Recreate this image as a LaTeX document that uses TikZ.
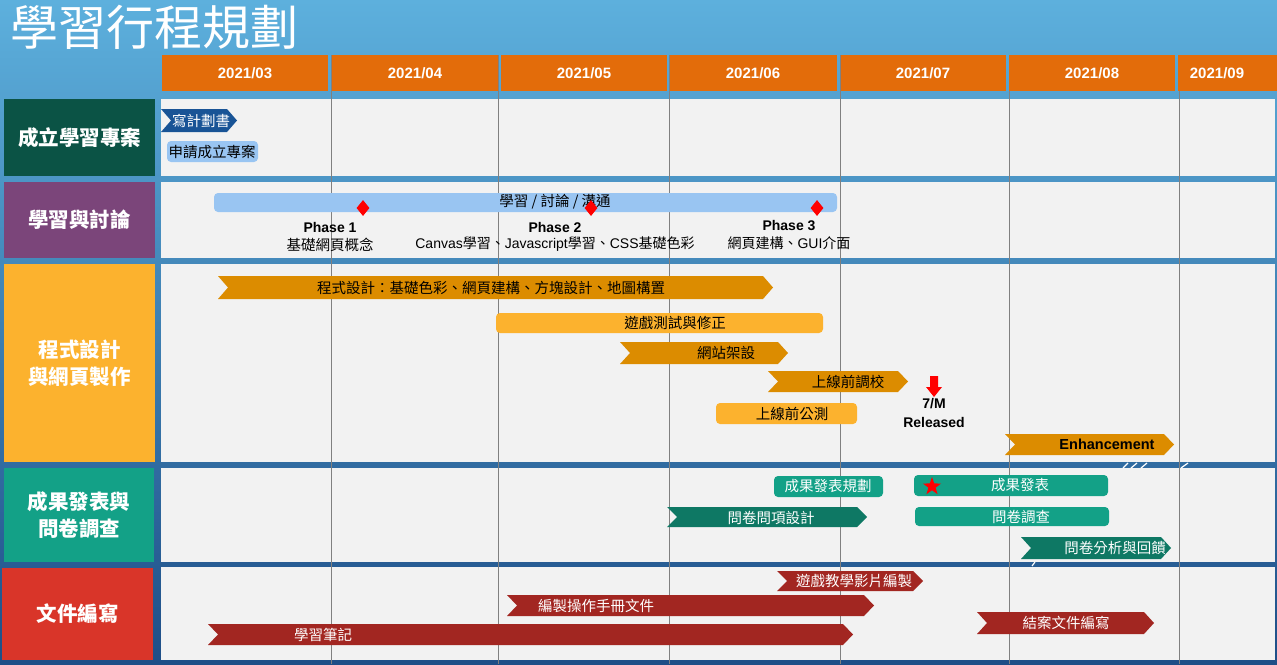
\documentclass[tikz,border=0pt]{standalone}
\usepackage{fontspec}
\setmainfont{Liberation Sans}
\newfontfamily\cjk{Noto Sans CJK TC}
\usetikzlibrary{shapes.geometric}

\definecolor{bgtop}{RGB}{93,176,221}
\definecolor{bgbot}{RGB}{30,78,135}
\definecolor{hdorange}{RGB}{227,108,10}
\definecolor{cellgray}{RGB}{242,242,242}
\definecolor{gridgray}{RGB}{128,128,128}
\definecolor{labgreen}{RGB}{11,83,69}
\definecolor{labpurple}{RGB}{123,69,122}
\definecolor{labyellow}{RGB}{252,178,46}
\definecolor{labteal}{RGB}{19,161,135}
\definecolor{labred}{RGB}{217,53,41}
\definecolor{barblue}{RGB}{25,84,150}
\definecolor{barlight}{RGB}{153,197,242}
\definecolor{barorange}{RGB}{220,140,0}
\definecolor{bardteal}{RGB}{14,120,100}
\definecolor{barred}{RGB}{162,38,33}

% chevron bar: x1, x2, y1, y2, colour
\newcommand{\chevbar}[5]{%
  \fill[#5] (#1,#3) -- ({#2-10},#3) -- (#2,{(#3+#4)/2}) -- ({#2-10},#4)
    -- (#1,#4) -- ({#1+10},{(#3+#4)/2}) -- cycle;}
% rounded bar: x1, x2, y1, y2, colour
\newcommand{\roundbar}[5]{%
  \fill[#5, rounded corners=4pt] (#1,#3) rectangle (#2,#4);}

\tikzset{
  labtext/.style={text=white, font=\cjk\bfseries\fontsize{20.5}{27}\selectfont, align=center},
  bartext/.style={font=\cjk\fontsize{14.5}{17}\selectfont, inner sep=0pt},
  wbartext/.style={bartext, text=white},
  phase/.style={font=\bfseries\fontsize{14}{17}\selectfont, inner sep=0pt},
  datetext/.style={text=white, font=\bfseries\fontsize{15}{18}\selectfont},
}

\begin{document}
\begin{tikzpicture}[x=1pt, y=-1pt]
    \useasboundingbox (0,0) rectangle (1277,664);

    % Background
    \shade[top color=bgtop, bottom color=bgbot] (0,0) rectangle (1277,664);

    % Title
    \node[anchor=west, text=white, font=\cjk\fontsize{48}{52}\selectfont, inner sep=0pt]
        (title) at (10,27) {學習行程規劃};

    % Row cells
    \foreach \ya/\yb in {99/176,182/258,264/462,468/562,567/660} {
        \fill[cellgray] (161,\ya) rectangle (1275,\yb);
    }

    % Month grid lines
    \foreach \x in {331,498,669,840,1009,1179} {
        \draw[gridgray, line width=1pt] (\x,55) -- (\x,664);
    }

    % Month headers
    \foreach \a/\b/\c/\m in {162/328/245/03,332/498/415/04,501/667/584/05,670/837/753/06,
                             841/1006/923/07,1009/1175/1092/08,1178/1277/1217/09} {
        \fill[hdorange] (\a,55) rectangle (\b,91);
        \node[datetext] (m\m) at (\c,73.5) {2021/\m};
    }

    % Row labels
    \fill[labgreen] (4,99) rectangle (155,176);
    \fill[labpurple] (4,182) rectangle (155,258);
    \fill[labyellow] (4,264) rectangle (155,462);
    \fill[labteal] (4,468) rectangle (154,562);
    \fill[labred] (2,568) rectangle (153,660);
    \node[labtext] (lab1) at (79.5,138) {成立學習專案};
    \node[labtext] (lab2) at (79.5,220) {學習與討論};
    \node[labtext] (lab3) at (79.5,363) {程式設計\\與網頁製作};
    \node[labtext] (lab4) at (79,515) {成果發表與\\問卷調查};
    \node[labtext] (lab5) at (77.5,614) {文件編寫};

    % Small breaks in the row separators
    \draw[white, line width=1.2pt] (1123,468) -- (1128,463);
    \draw[white, line width=1.2pt] (1131,468) -- (1137,463);
    \draw[white, line width=1.2pt] (1141,468) -- (1147,463);
    \draw[white, line width=1.2pt] (1181,468) -- (1188,463);
    \draw[white, line width=1.2pt] (1032,566) -- (1035,562);

    % Row 1
    \chevbar{161}{237}{109}{132}{barblue}
    \node[wbartext] (plan) at (201,120.5) {寫計劃書};
    \roundbar{167}{258}{141}{162}{barlight}
    \node[bartext] (apply) at (212,152) {申請成立專案};

    % Row 2
    \roundbar{214}{837}{193}{212}{barlight}
    \node[bartext] (talk) at (555,202) {學習 / 討論 / 溝通};
    \node[diamond, fill=red, inner sep=0pt, minimum width=13pt, minimum height=16pt] (d1) at (363,208) {};
    \node[diamond, fill=red, inner sep=0pt, minimum width=13pt, minimum height=16pt] (d2) at (591,208) {};
    \node[diamond, fill=red, inner sep=0pt, minimum width=13pt, minimum height=16pt] (d3) at (817,208) {};
    \node[phase] (ph1) at (330,227) {Phase 1};
    \node[phase] (ph2) at (555,227) {Phase 2};
    \node[phase] (ph3) at (789,226) {Phase 3};
    \node[bartext] (ph1t) at (330,245) {基礎網頁概念};
    \node[bartext, font=\fontsize{14}{17}\selectfont] (ph2t) at (555,244)
        {Canvas{\cjk 學習、}Javascript{\cjk 學習、}CSS{\cjk 基礎色彩}};
    \node[bartext, font=\fontsize{14}{17}\selectfont] (ph3t) at (789,243)
        {{\cjk 網頁建構、}GUI{\cjk 介面}};

    % Row 3
    \chevbar{218}{773}{276}{299}{barorange}
    \node[bartext] (code) at (491,287.5) {程式設計：基礎色彩、網頁建構、方塊設計、地圖構置};
    \roundbar{496}{823}{313}{333}{labyellow}
    \node[bartext] (test) at (675,323) {遊戲測試與修正};
    \chevbar{620}{788}{342}{364}{barorange}
    \node[bartext] (site) at (726,353) {網站架設};
    \chevbar{768}{908}{371}{392}{barorange}
    \node[bartext] (tune) at (848,381.5) {上線前調校};
    \roundbar{716}{857}{403}{424}{labyellow}
    \node[bartext] (beta) at (792,413.5) {上線前公測};
    \fill[red] (930,376) -- (938,376) -- (938,387) -- (942,387) -- (934,397)
        -- (926,387) -- (930,387) -- cycle;
    \node[phase] (rel1) at (934,404) {7/M};
    \node[phase] (rel2) at (934,422) {Released};
    \chevbar{1005}{1174}{434}{455}{barorange}
    \node[phase, font=\bfseries\fontsize{14.5}{17}\selectfont] (enh) at (1107,444.5) {Enhancement};

    % Row 4
    \roundbar{774}{883}{476}{497}{labteal}
    \node[wbartext] (showplan) at (828,486.5) {成果發表規劃};
    \roundbar{914}{1108}{475}{496}{labteal}
    \node[star, star points=5, star point ratio=2.5, fill=red, inner sep=0pt,
          minimum size=19pt] (star) at (932,486.5) {};
    \node[wbartext] (show) at (1020,485.5) {成果發表};
    \chevbar{667}{867}{507}{527}{bardteal}
    \node[wbartext] (quest) at (771,517.5) {問卷問項設計};
    \roundbar{915}{1109}{507}{526}{labteal}
    \node[wbartext] (survey) at (1021,516.5) {問卷調查};
    \chevbar{1021}{1171}{537}{559}{bardteal}
    \node[wbartext] (review) at (1115,548) {問卷分析與回饋};

    % Row 5
    \chevbar{777}{923}{571}{591}{barred}
    \node[wbartext] (video) at (854,581) {遊戲教學影片編製};
    \chevbar{507}{874}{595}{616}{barred}
    \node[wbartext] (manual) at (596,605.5) {編製操作手冊文件};
    \chevbar{208}{853}{624}{645}{barred}
    \node[wbartext] (notes) at (323,634.5) {學習筆記};
    \chevbar{977}{1154}{612}{634}{barred}
    \node[wbartext] (final) at (1066,623) {結案文件編寫};
\end{tikzpicture}
\end{document}
